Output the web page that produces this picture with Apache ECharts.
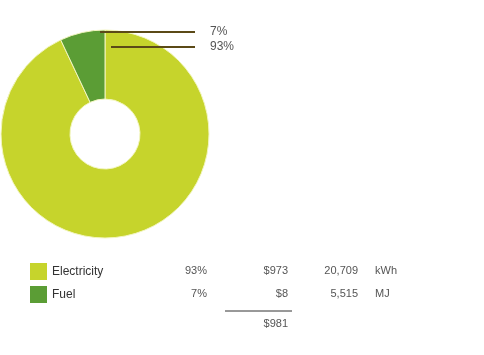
<!DOCTYPE html>
<html><head><meta charset="utf-8">
<script src="https://cdn.jsdelivr.net/npm/echarts@6/dist/echarts.min.js"></script>
<style>html,body{margin:0;padding:0;background:#fff}#c{width:484px;height:355px}</style>
</head><body><div id="c"></div>
<script>
const categories = ['Electricity', 'Fuel'];
const shares = [93, 7];
const costs = ['$973', '$8'];
const usage = ['20,709', '5,515'];
const units = ['kWh', 'MJ'];
const total = '$981';
const colors = ['#c6d42c', '#5b9d35'];

const chart = echarts.init(document.getElementById('c'));
const txt = '#555';
const font = 'Liberation Sans, Arial, sans-serif';
const rowY = [271, 294];
const graphics = [];
categories.forEach((c, i) => {
  graphics.push({type:'text', x: 207, y: rowY[i], style:{text: shares[i] + '%', fill: txt, font: '11px ' + font, align:'right', verticalAlign:'middle'}});
  graphics.push({type:'text', x: 288, y: rowY[i], style:{text: costs[i], fill: txt, font: '11px ' + font, align:'right', verticalAlign:'middle'}});
  graphics.push({type:'text', x: 358, y: rowY[i], style:{text: usage[i], fill: txt, font: '11px ' + font, align:'right', verticalAlign:'middle'}});
  graphics.push({type:'text', x: 375, y: rowY[i], style:{text: units[i], fill: txt, font: '11px ' + font, align:'left', verticalAlign:'middle'}});
});
graphics.push({type:'line', shape:{x1:225, y1:311, x2:292, y2:311}, style:{stroke:'#333', lineWidth:1}});
graphics.push({type:'text', x: 288, y: 324, style:{text: total, fill: txt, font: '11px ' + font, align:'right', verticalAlign:'middle'}});

// leader lines drawn on top of the donut
const labelY = [47, 32];
const lineStart = [111, 100];
categories.forEach((c, i) => {
  graphics.push({type:'line', z: 100, shape:{x1: lineStart[i], y1: labelY[i], x2: 195, y2: labelY[i]}, style:{stroke:'#5b4a17', lineWidth:2}});
});

chart.setOption({
  animation: false,
  color: colors,
  legend: {
    orient: 'vertical', left: 25, top: 258, itemWidth: 17, itemHeight: 17, itemGap: 6,
    icon: 'rect', data: categories, itemStyle: {borderWidth: 0},
    textStyle: {color: '#333', fontSize: 12, fontFamily: font}
  },
  graphic: graphics,
  series: [{
    type: 'pie',
    center: [105, 134],
    radius: [35, 104],
    startAngle: 90,
    clockwise: true,
    itemStyle: {borderColor: '#f2f5c0', borderWidth: 1},
    label: {show: true, formatter: '{c}%', color: txt, fontSize: 12, fontFamily: font},
    labelLine: {show: false},
    labelLayout: function (p) {
      const i = p.dataIndex;
      return {x: 210, y: labelY[i], align: 'left', verticalAlign: 'middle'};
    },
    emphasis: {disabled: true},
    data: categories.map((c, i) => ({name: c, value: shares[i]}))
  }]
});
</script></body></html>
